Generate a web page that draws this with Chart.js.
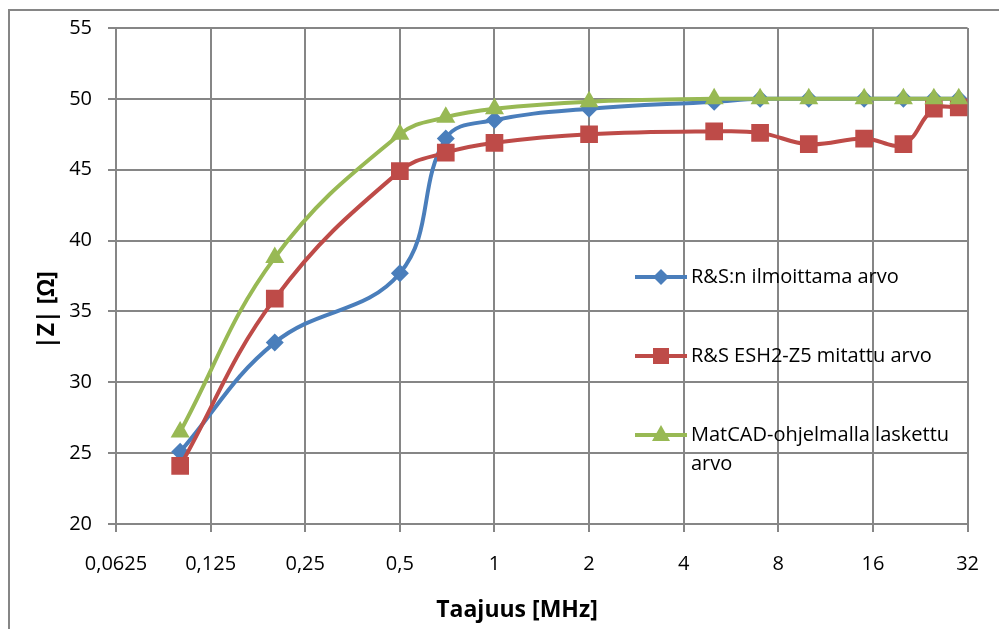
<!DOCTYPE html>
<html>
<head>
<meta charset="utf-8">
<script src="https://cdn.jsdelivr.net/npm/chart.js@4.4.0/dist/chart.umd.min.js"></script>
<style>
    html, body { margin: 0; padding: 0; background: #fff; }
</style>
</head>
<body>
<canvas id="zChart" width="999" height="629"></canvas>
<script>
// Frequencies in MHz
const freqs = [0.1, 0.2, 0.5, 0.7, 1, 2, 5, 7, 10, 15, 20, 25, 30];
const rsNominal = [25.1, 32.8, 37.7, 47.2, 48.5, 49.3, 49.8, 50, 50, 50, 50, 50, 50];
const rsMeasured = [24.1, 35.9, 44.9, 46.2, 46.9, 47.5, 47.7, 47.6, 46.8, 47.2, 46.8, 49.3, 49.4];
const matcad = [26.5, 38.8, 47.5, 48.7, 49.3, 49.8, 50, 50, 50, 50, 50, 50, 50];
const xTicks = [0.0625, 0.125, 0.25, 0.5, 1, 2, 4, 8, 16, 32];
const seriesNames = ['R&S:n ilmoittama arvo', 'R&S ESH2-Z5 mitattu arvo', 'MatCAD-ohjelmalla laskettu'];

const blue = '#4a7ebb';
const red = '#be4b48';
const green = '#98b954';
const gridColor = '#868686';
const font = '"Open Sans"';

const toPoints = vals => vals.map((v, i) => ({ x: freqs[i], y: v }));

// markers for the legend
function drawMarker(ctx, style, x, y, color) {
    ctx.fillStyle = color;
    ctx.beginPath();
    if (style === 'rectRot') {
        ctx.moveTo(x, y - 8); ctx.lineTo(x + 8, y); ctx.lineTo(x, y + 8); ctx.lineTo(x - 8, y);
    } else if (style === 'rect') {
        ctx.rect(x - 8, y - 8, 16, 16);
    } else {
        ctx.moveTo(x, y - 10); ctx.lineTo(x + 9, y + 6); ctx.lineTo(x - 9, y + 6);
    }
    ctx.closePath();
    ctx.fill();
}

const decorations = {
    id: 'decorations',
    beforeDraw(chart) {
        const ctx = chart.ctx;
        ctx.save();
        ctx.strokeStyle = gridColor;
        ctx.lineWidth = 2;
        ctx.beginPath();
        ctx.moveTo(9, 640); ctx.lineTo(9, 10); ctx.lineTo(1010, 10);
        ctx.stroke();
        ctx.restore();
    },
    afterDraw(chart) {
        const ctx = chart.ctx;
        ctx.save();
        // axis titles
        ctx.fillStyle = '#000';
        ctx.font = `bold 23px ${font}`;
        ctx.textAlign = 'center';
        ctx.textBaseline = 'middle';
        ctx.fillText('Taajuus [MHz]', 517, 610);
        ctx.save();
        ctx.translate(47, 310);
        ctx.rotate(-Math.PI / 2);
        ctx.fillText('|Z| [Ω]', 0, 0);
        ctx.restore();

        // legend inside the plot
        const rows = [277, 356, 435];
        const styles = ['rectRot', 'rect', 'triangle'];
        const colors = [blue, red, green];
        ctx.font = `20px ${font}`;
        ctx.textAlign = 'left';
        rows.forEach((y, i) => {
            ctx.strokeStyle = colors[i];
            ctx.lineWidth = 4;
            ctx.beginPath();
            ctx.moveTo(635, y); ctx.lineTo(687, y);
            ctx.stroke();
            drawMarker(ctx, styles[i], 661, y, colors[i]);
            ctx.fillStyle = '#000';
            ctx.fillText(seriesNames[i], 691, y);
        });
        ctx.fillText('arvo', 691, 464);
        ctx.restore();
    }
};

const ctx = document.getElementById('zChart').getContext('2d');
const chart = new Chart(ctx, {
    type: 'line',
    data: {
        datasets: [
            {
                label: seriesNames[0],
                data: toPoints(rsNominal),
                borderColor: blue,
                backgroundColor: blue,
                pointStyle: 'rectRot',
                pointRadius: 9,
                order: 2
            },
            {
                label: seriesNames[1],
                data: toPoints(rsMeasured),
                borderColor: red,
                backgroundColor: red,
                pointStyle: 'rect',
                pointRadius: 12.5,
                order: 1
            },
            {
                label: seriesNames[2] + ' arvo',
                data: toPoints(matcad),
                borderColor: green,
                backgroundColor: green,
                pointStyle: 'triangle',
                pointRadius: 11,
                order: 0
            }
        ]
    },
    options: {
        responsive: false,
        devicePixelRatio: 1,
        animation: false,
        layout: {
            padding: { left: 0, right: 24, top: 27, bottom: 0 }
        },
        elements: {
            line: { borderWidth: 4, tension: 0.4, fill: false },
            point: { borderWidth: 0, hoverRadius: 10 }
        },
        plugins: {
            legend: { display: false },
            tooltip: { enabled: false }
        },
        scales: {
            x: {
                type: 'logarithmic',
                min: 0.0625,
                max: 32,
                afterBuildTicks: scale => {
                    scale.ticks = xTicks.map(v => ({ value: v }));
                },
                afterFit: scale => { scale.height = 105; },
                ticks: {
                    autoSkip: false,
                    maxRotation: 0,
                    padding: 20,
                    color: '#000',
                    font: { family: font, size: 20 },
                    callback: v => String(v).replace('.', ',')
                },
                grid: { color: gridColor, lineWidth: 2, tickLength: 8 },
                border: { color: gridColor, width: 2 }
            },
            y: {
                min: 20,
                max: 55,
                afterFit: scale => { scale.width = 116; },
                ticks: {
                    stepSize: 5,
                    padding: 16,
                    color: '#000',
                    font: { family: font, size: 20 }
                },
                grid: { color: gridColor, lineWidth: 2, tickLength: 8 },
                border: { color: gridColor, width: 2 }
            }
        }
    },
    plugins: [decorations]
});
</script>
</body>
</html>
